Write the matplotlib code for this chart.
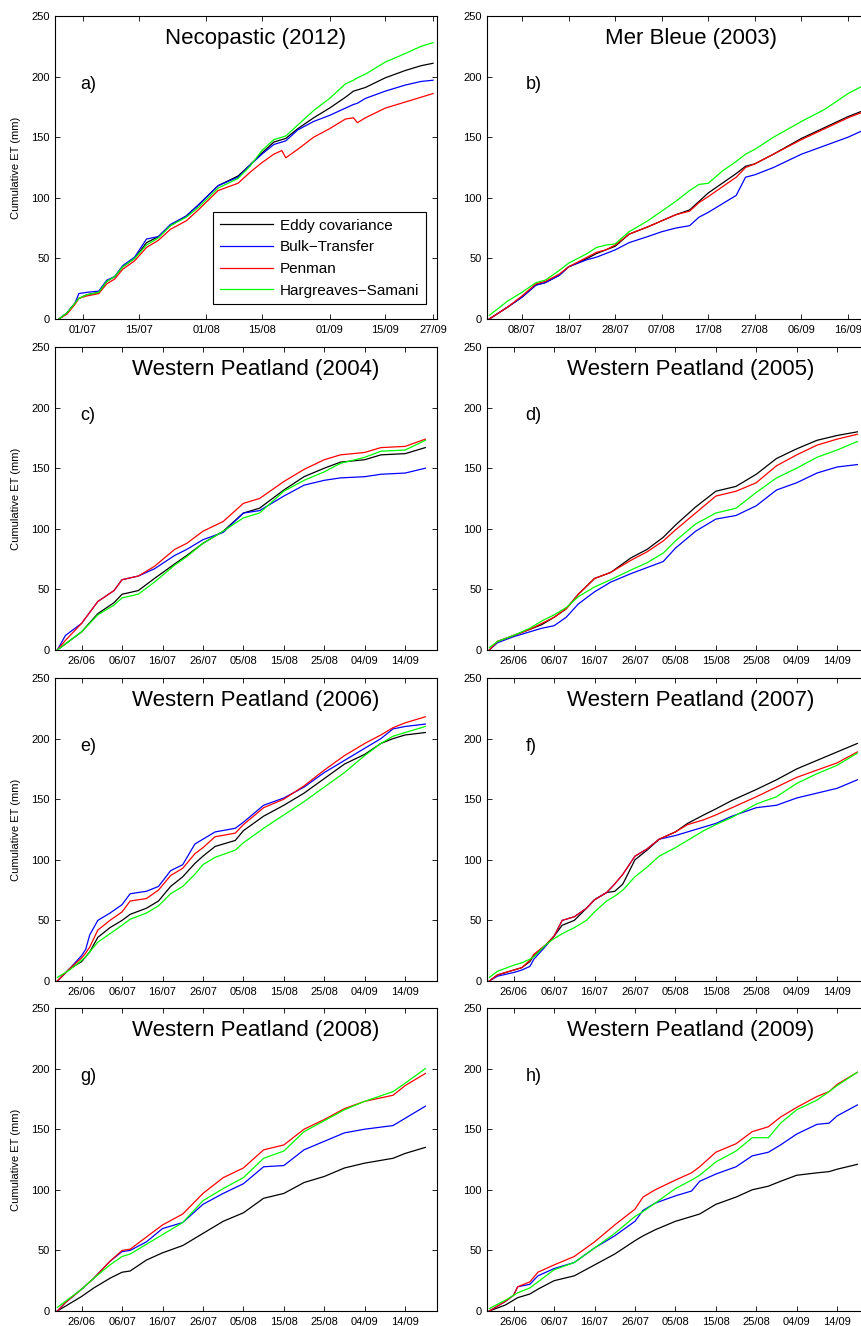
import matplotlib
matplotlib.use('Agg')
import matplotlib.pyplot as plt
import matplotlib.dates as mdates
from datetime import datetime

plt.rcParams['font.family'] = ['Liberation Sans', 'DejaVu Sans']

# ---------------- data (cumulative ET, mm) ----------------
series_names = ['Eddy covariance', 'Bulk\u2212Transfer', 'Penman', 'Hargreaves\u2212Samani']
series_colors = ['#000000', '#0000ff', '#ff0000', '#00ff00']

# a) Necopastic (2012)
a_dates = ['25/06', '27/06', '29/06', '30/06', '02/07', '05/07', '07/07', '09/07', '11/07', '14/07',
           '17/07', '20/07', '23/07', '27/07', '30/07', '04/08', '09/08', '12/08', '15/08', '18/08',
           '20/08', '21/08', '24/08', '28/08', '01/09', '05/09', '07/09', '08/09', '10/09', '15/09',
           '20/09', '24/09', '27/09']
a_ec = [0, 5, 13, 17, 20, 22, 31, 35, 43, 50, 63, 68, 77, 85, 94, 110, 118, 127, 137, 146,
        148, 149, 157, 166, 174, 183, 188, 189, 191, 199, 205, 209, 211]
a_bt = [0, 5, 13, 21, 22, 23, 32, 35, 44, 51, 66, 68, 78, 85, 94, 110, 117, 127, 136, 144,
        146, 147, 156, 163, 168, 174, 177, 178, 182, 188, 193, 196, 197]
a_pm = [0, 4, 12, 17, 19, 21, 29, 33, 41, 48, 59, 65, 74, 81, 90, 106, 112, 121, 129, 136,
        139, 133, 140, 150, 157, 165, 166, 162, 166, 174, 179, 183, 186]
a_hs = [0, 5, 13, 17, 20, 22, 31, 35, 43, 50, 61, 67, 77, 84, 92, 108, 116, 126, 139, 148,
        150, 151, 160, 172, 182, 194, 197, 199, 202, 212, 219, 225, 228]

# b) Mer Bleue (2003)
b_dates = ['01/07', '03/07', '05/07', '08/07', '11/07', '13/07', '16/07', '18/07', '22/07', '24/07',
           '26/07', '28/07', '31/07', '04/08', '07/08', '10/08', '13/08', '15/08', '17/08', '20/08',
           '23/08', '25/08', '27/08', '31/08', '06/09', '11/09', '16/09', '20/09']
b_ec = [0, 5, 10, 18, 28, 30, 36, 43, 50, 54, 57, 60, 70, 76, 81, 86, 90, 97, 104, 112,
        120, 126, 128, 136, 149, 158, 167, 173]
b_bt = [0, 5, 10, 18, 28, 30, 36, 43, 49, 51, 54, 57, 63, 68, 72, 75, 77, 84, 88, 95,
        102, 117, 119, 125, 136, 143, 150, 157]
b_pm = [0, 5, 10, 19, 29, 31, 37, 43, 51, 55, 57, 61, 70, 76, 81, 86, 89, 96, 101, 109,
        117, 125, 128, 136, 148, 157, 166, 172]
b_hs = [3, 9, 15, 22, 30, 32, 40, 46, 54, 59, 61, 62, 72, 81, 89, 97, 106, 111, 112, 122,
        130, 136, 140, 150, 163, 173, 186, 194]

# c) Western Peatland (2004)
c_dates = ['20/06', '22/06', '26/06', '30/06', '04/07', '06/07', '10/07', '14/07', '19/07', '22/07',
           '26/07', '31/07', '05/08', '09/08', '15/08', '20/08', '25/08', '29/08', '04/09', '08/09',
           '14/09', '19/09']
c_ec = [0, 5, 15, 30, 39, 46, 49, 59, 71, 78, 88, 98, 113, 117, 132, 143, 150, 155, 157, 161, 162, 167]
c_bt = [0, 12, 22, 40, 49, 58, 61, 67, 78, 83, 91, 97, 113, 115, 127, 136, 140, 142, 143, 145, 146, 150]
c_pm = [0, 8, 22, 40, 49, 58, 61, 69, 83, 88, 98, 106, 121, 125, 139, 149, 157, 161, 163, 167, 168, 174]
c_hs = [0, 5, 15, 29, 37, 43, 46, 56, 70, 77, 88, 98, 109, 113, 131, 140, 147, 154, 159, 164, 165, 173]

# d) Western Peatland (2005)
d_dates = ['20/06', '22/06', '26/06', '30/06', '03/07', '06/07', '09/07', '12/07', '16/07', '20/07',
           '25/07', '29/07', '02/08', '05/08', '10/08', '15/08', '20/08', '25/08', '30/08', '04/09',
           '09/09', '14/09', '19/09']
d_ec = [0, 7, 12, 17, 21, 27, 34, 46, 59, 64, 76, 83, 93, 103, 118, 131, 135, 145, 158, 166, 173, 177, 180]
d_bt = [0, 6, 11, 15, 18, 20, 27, 38, 48, 56, 63, 68, 73, 84, 98, 108, 111, 119, 132, 138, 146, 151, 153]
d_pm = [0, 7, 12, 17, 22, 27, 34, 46, 59, 64, 74, 81, 90, 99, 113, 127, 131, 138, 152, 161, 169, 174, 178]
d_hs = [2, 7, 12, 18, 24, 29, 35, 44, 52, 58, 66, 72, 80, 90, 104, 113, 117, 130, 142, 150, 159, 165, 172]

# e) Western Peatland (2006)
e_dates = ['20/06', '23/06', '26/06', '27/06', '28/06', '30/06', '03/07', '06/07', '08/07', '12/07',
           '15/07', '18/07', '21/07', '24/07', '26/07', '29/07', '03/08', '05/08', '10/08', '15/08',
           '20/08', '25/08', '30/08', '04/09', '08/09', '11/09', '14/09', '19/09']
e_ec = [0, 10, 16, 20, 24, 36, 44, 50, 55, 60, 66, 78, 86, 97, 103, 111, 116, 124, 136, 145,
        155, 167, 179, 187, 196, 200, 203, 205]
e_bt = [0, 10, 21, 26, 38, 50, 56, 63, 72, 74, 78, 91, 96, 113, 117, 123, 126, 131, 145, 151,
        160, 172, 182, 192, 200, 208, 210, 212]
e_pm = [0, 10, 19, 23, 28, 42, 50, 57, 66, 68, 75, 87, 93, 105, 110, 119, 122, 129, 143, 150,
        161, 174, 186, 196, 203, 209, 213, 218]
e_hs = [3, 9, 17, 20, 24, 32, 39, 46, 51, 56, 62, 72, 78, 88, 96, 102, 108, 114, 126, 137,
        148, 160, 172, 186, 196, 202, 205, 210]

# f) Western Peatland (2007)
f_dates = ['20/06', '22/06', '26/06', '28/06', '30/06', '01/07', '04/07', '06/07', '08/07', '11/07',
           '14/07', '16/07', '19/07', '21/07', '23/07', '26/07', '29/07', '01/08', '05/08', '08/08',
           '12/08', '15/08', '19/08', '25/08', '30/08', '04/09', '09/09', '14/09', '19/09']
f_ec = [0, 5, 9, 11, 16, 21, 30, 37, 46, 50, 60, 67, 73, 74, 80, 100, 108, 117, 123, 130,
        137, 142, 149, 158, 166, 175, 182, 189, 196]
f_bt = [0, 4, 7, 9, 12, 18, 29, 37, 50, 53, 60, 67, 73, 80, 88, 103, 109, 117, 120, 123,
        127, 130, 136, 143, 145, 151, 155, 159, 166]
f_pm = [0, 5, 9, 11, 17, 22, 30, 37, 50, 53, 60, 67, 73, 80, 88, 103, 109, 117, 123, 129,
        133, 137, 143, 152, 160, 168, 174, 180, 189]
f_hs = [3, 8, 13, 15, 18, 20, 30, 35, 39, 44, 50, 57, 66, 70, 75, 86, 94, 103, 110, 116,
        124, 129, 135, 146, 152, 163, 171, 178, 188]

# g) Western Peatland (2008)
g_dates = ['20/06', '22/06', '26/06', '29/06', '03/07', '06/07', '08/07', '12/07', '16/07', '21/07',
           '26/07', '31/07', '05/08', '10/08', '15/08', '20/08', '25/08', '30/08', '04/09', '11/09',
           '14/09', '19/09']
g_ec = [0, 4, 12, 19, 27, 32, 33, 42, 48, 54, 64, 74, 81, 93, 97, 106, 111, 118, 122, 126, 130, 135]
g_bt = [0, 7, 18, 27, 41, 49, 50, 57, 68, 73, 88, 97, 105, 119, 120, 133, 140, 147, 150, 153, 159, 169]
g_pm = [0, 7, 18, 27, 41, 50, 51, 61, 71, 80, 97, 110, 118, 133, 137, 150, 158, 167, 173, 178, 186, 196]
g_hs = [3, 8, 18, 27, 38, 45, 47, 55, 63, 73, 91, 101, 110, 126, 132, 148, 157, 166, 173, 181, 188, 200]

# h) Western Peatland (2009)
h_dates = ['20/06', '24/06', '26/06', '27/06', '30/06', '02/07', '06/07', '11/07', '16/07', '21/07',
           '26/07', '28/07', '31/07', '05/08', '09/08', '11/08', '15/08', '20/08', '24/08', '28/08',
           '31/08', '04/09', '09/09', '12/09', '14/09', '19/09']
h_ec = [0, 5, 9, 11, 14, 18, 25, 29, 38, 47, 58, 62, 67, 74, 78, 80, 88, 94, 100, 103,
        107, 112, 114, 115, 117, 121]
h_bt = [0, 8, 13, 20, 22, 29, 35, 40, 52, 62, 74, 83, 89, 95, 99, 107, 113, 119, 128, 131,
        137, 146, 154, 155, 161, 170]
h_pm = [0, 8, 13, 20, 24, 32, 38, 45, 57, 71, 84, 94, 100, 108, 114, 119, 131, 138, 148, 152,
        160, 168, 177, 181, 187, 197]
h_hs = [2, 9, 13, 15, 19, 24, 34, 40, 52, 64, 78, 82, 89, 101, 108, 112, 123, 132, 143, 143,
        155, 166, 174, 181, 186, 197]

ticks_a = ['01/07', '15/07', '01/08', '15/08', '01/09', '15/09', '27/09']
ticks_b = ['08/07', '18/07', '28/07', '07/08', '17/08', '27/08', '06/09', '16/09']
ticks_wp = ['26/06', '06/07', '16/07', '26/07', '05/08', '15/08', '25/08', '04/09', '14/09']
y_ticks = [0, 50, 100, 150, 200, 250]


def to_date(s, year):
    dd, mm = s.split('/')
    return datetime(year, int(mm), int(dd))


panels = [
    ('Necopastic (2012)', 'a)', 2012, a_dates, [a_ec, a_bt, a_pm, a_hs], ticks_a,
     (datetime(2012, 6, 24), datetime(2012, 9, 28))),
    ('Mer Bleue (2003)', 'b)', 2003, b_dates, [b_ec, b_bt, b_pm, b_hs], ticks_b,
     (datetime(2003, 6, 30, 12), datetime(2003, 9, 20, 12))),
    ('Western Peatland (2004)', 'c)', 2004, c_dates, [c_ec, c_bt, c_pm, c_hs], ticks_wp, None),
    ('Western Peatland (2005)', 'd)', 2005, d_dates, [d_ec, d_bt, d_pm, d_hs], ticks_wp, None),
    ('Western Peatland (2006)', 'e)', 2006, e_dates, [e_ec, e_bt, e_pm, e_hs], ticks_wp, None),
    ('Western Peatland (2007)', 'f)', 2007, f_dates, [f_ec, f_bt, f_pm, f_hs], ticks_wp, None),
    ('Western Peatland (2008)', 'g)', 2008, g_dates, [g_ec, g_bt, g_pm, g_hs], ticks_wp, None),
    ('Western Peatland (2009)', 'h)', 2009, h_dates, [h_ec, h_bt, h_pm, h_hs], ticks_wp, None),
]

W, H = 861, 1326
fig = plt.figure(figsize=(W / 100, H / 100), dpi=100)

col_x = [55, 487]
row_y = [16, 347, 678, 1008]
aw, ah = 382, 303

for i, (title, lab, year, dates, ys, ticks, xlim) in enumerate(panels):
    r, c = divmod(i, 2)
    x0, y0 = col_x[c], row_y[r]
    ax = fig.add_axes([x0 / W, 1 - (y0 + ah) / H, aw / W, ah / H])
    xd = [to_date(s, year) for s in dates]
    for yv, name, col in zip(ys, series_names, series_colors):
        ax.plot(xd, yv, color=col, lw=0.9, label=name)
    if xlim is None:
        xlim = (datetime(year, 6, 19, 10), datetime(year, 9, 21, 21))
    ax.set_xlim(*xlim)
    ax.set_ylim(0, 250)
    ax.set_yticks(y_ticks)
    ax.set_xticks([to_date(s, year) for s in ticks])
    ax.xaxis.set_major_formatter(mdates.DateFormatter('%d/%m'))
    ax.tick_params(direction='in', top=True, right=True, length=3.5, width=0.6,
                   labelsize=8, pad=4)
    for sp in ax.spines.values():
        sp.set_linewidth(0.8)
    tx = 0.525 if c == 0 else 0.534
    ax.text(tx, 0.925, title, transform=ax.transAxes, ha='center', va='center', fontsize=16)
    lx = 0.065 if c == 0 else 0.101
    ax.text(lx, 0.775, lab, transform=ax.transAxes, ha='left', va='center', fontsize=13)
    if c == 0:
        ax.set_ylabel('Cumulative ET (mm)', fontsize=8)
        ax.yaxis.set_label_coords(-0.089, 0.5)
    if i == 0:
        leg = ax.legend(loc='lower right', bbox_to_anchor=(0.972, 0.048), borderaxespad=0,
                        fontsize=11, handlelength=3.5, handletextpad=0.45,
                        labelspacing=0.5, borderpad=0.45, fancybox=False, framealpha=1)
        leg.get_frame().set_edgecolor('black')
        leg.get_frame().set_linewidth(0.8)

fig.savefig('out.png', dpi=100)
